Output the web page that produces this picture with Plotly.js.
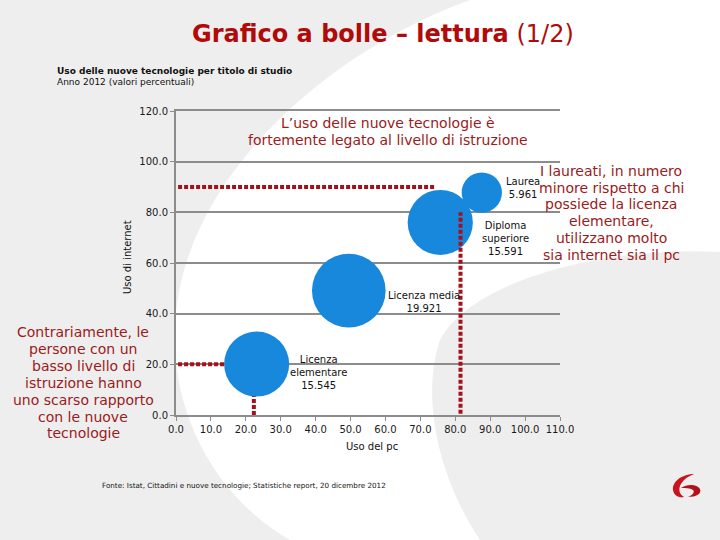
<!DOCTYPE html>
<html>
<head>
<meta charset="utf-8">
<script src="https://cdn.plot.ly/plotly-3.0.1.min.js"></script>
<style>
html,body{margin:0;padding:0;background:#eeeeee;}
#chart{width:720px;height:540px;}
</style>
</head>
<body>
<div id="chart"></div>
<script>
// ---- data ----
const categories = ['Licenza elementare', 'Licenza media', 'Diploma superiore', 'Laurea'];
const categoryLines = [['Licenza', 'elementare'], ['Licenza media'], ['Diploma', 'superiore'], ['Laurea']];
const usoPc = [23.1, 49.5, 75.7, 87.6];
const usoInternet = [20.1, 49.1, 76.0, 87.8];
const popolazione = [15.545, 19.921, 15.591, 5.961];

const titleMain = 'Grafico a bolle – lettura';
const titlePart = '(1/2)';
const subtitle1 = 'Uso delle nuove tecnologie per titolo di studio';
const subtitle2 = 'Anno 2012 (valori percentuali)';
const xTitle = 'Uso del pc';
const yTitle = 'Uso di internet';
const fonte = 'Fonte: Istat, Cittadini e nuove tecnologie; Statistiche report, 20 dicembre 2012';
const noteTop = ['L’uso delle nuove tecnologie è', 'fortemente legato al livello di istruzione'];
const noteRight = ['I laureati, in numero', 'minore rispetto a chi', 'possiede la licenza', 'elementare,', 'utilizzano molto', 'sia internet sia il pc'];
const noteLeft = ['Contrariamente, le', 'persone con un', 'basso livello di', 'istruzione hanno', 'uno scarso rapporto', 'con le nuove', 'tecnologie'];

// guide lines (data coords): [x0, y0, x1, y1, layer]
const guides = [
  [0.6, 20, 22.5, 20, 'between'],
  [22.3, 0, 22.3, 20, 'between'],
  [0.6, 90, 74.3, 90, 'above'],
  [81.5, 0.5, 81.5, 80, 'above']
];

// ---- layout helpers ----
const W = 720, H = 540;
const px = x => x / W;
const py = y => 1 - y / H;
function pathPx(cmds) {
  return cmds.map(c => {
    const l = c[0];
    const pts = [];
    for (let i = 1; i < c.length; i += 2) pts.push(px(c[i]).toFixed(5) + ',' + py(c[i + 1]).toFixed(5));
    return l + ' ' + pts.join(' ');
  }).join(' ') + ' Z';
}

const RED_TEXT = '#9c1a20';
const RED_LINE = '#a3121c';
const FONT = 'DejaVu Sans, Verdana, sans-serif';

const trace = {
  type: 'scatter',
  mode: 'markers',
  x: usoPc,
  y: usoInternet,
  text: categories,
  marker: {
    size: popolazione,
    sizemode: 'area',
    sizeref: 0.00734,
    color: '#1788dc',
    line: {width: 0},
    opacity: 1
  },
  hoverinfo: 'none',
  cliponaxis: false,
  showlegend: false
};

const shapes = [];
// background watermark (white swirl)
shapes.push({
  type: 'path', xref: 'paper', yref: 'paper', layer: 'below',
  path: pathPx([
    ['M', 470, 0], ['L', 720, 0], ['L', 720, 252],
    ['C', 600, 246, 470, 282, 440, 340],
    ['C', 420, 400, 440, 480, 480, 540],
    ['L', 290, 540],
    ['C', 220, 500, 172, 420, 175, 330],
    ['C', 178, 180, 330, 50, 470, 0]
  ]),
  fillcolor: '#ffffff', line: {width: 0}
});
// logo
shapes.push({
  type: 'path', xref: 'paper', yref: 'paper', layer: 'above',
  path: pathPx([
    ['M', 694, 474], ['C', 683, 474, 672, 481, 673, 490],
    ['C', 674, 496, 679, 498, 684, 497],
    ['C', 679, 494, 678, 489, 681, 484],
    ['C', 684, 479, 689, 476, 694, 474]
  ]),
  fillcolor: '#c8141e', line: {width: 0}
});
shapes.push({
  type: 'path', xref: 'paper', yref: 'paper', layer: 'above',
  path: pathPx([
    ['M', 681, 488], ['C', 687, 484, 697, 484, 700, 489],
    ['C', 702, 494, 696, 497, 688, 497],
    ['C', 693, 495, 695, 492, 693, 490],
    ['C', 690, 488, 685, 488, 681, 488]
  ]),
  fillcolor: '#b3101a', line: {width: 0}
});
guides.forEach(g => shapes.push({
  type: 'line', xref: 'x', yref: 'y', x0: g[0], y0: g[1], x1: g[2], y1: g[3],
  layer: g[4], line: {color: RED_LINE, width: 4, dash: '4px,2px'}
}));

const annotations = [];
function ann(text, x, y, opts) {
  annotations.push(Object.assign({
    text: text, x: px(x), y: py(y), xref: 'paper', yref: 'paper',
    showarrow: false, xanchor: 'center', yanchor: 'middle',
    font: {family: FONT, size: 14, color: RED_TEXT}
  }, opts || {}));
}
// title
ann('<b>' + titleMain + '</b> ' + titlePart, 383, 34, {font: {family: FONT, size: 24, color: '#b00a0a'}});
ann('<b>' + subtitle1 + '</b>', 55, 71, {xanchor: 'left', font: {family: FONT, size: 9, color: '#111111'}});
ann(subtitle2, 55, 82, {xanchor: 'left', font: {family: FONT, size: 9, color: '#111111'}});
// red notes, one line each
noteTop.forEach((t, i) => ann(t, 388, 122.5 + i * 17.5));
noteRight.forEach((t, i) => ann(t, 611, 171 + i * 16.7));
noteLeft.forEach((t, i) => ann(t, 83, 332 + i * 16.9));
// axis titles
ann(xTitle, 372, 446, {font: {family: FONT, size: 10, color: '#111111'}});
ann(yTitle, 128, 257, {textangle: -90, font: {family: FONT, size: 10, color: '#111111'}});
// source
ann(fonte, 100, 485, {xanchor: 'left', font: {family: FONT, size: 7.2, color: '#111111'}});
// bubble labels
const labelShift = [[62, -8], [75, -11], [65, -16], [41, 5]];
categories.forEach((c, i) => {
  annotations.push({
    text: categoryLines[i].concat([popolazione[i].toFixed(3)]).join('<br>'),
    x: usoPc[i], y: usoInternet[i], xref: 'x', yref: 'y',
    xshift: labelShift[i][0], yshift: labelShift[i][1],
    showarrow: false, xanchor: 'center', yanchor: 'middle', align: 'center',
    font: {family: FONT, size: 10, color: '#111111'}
  });
});

const layout = {
  width: W, height: H,
  margin: {l: 0, r: 0, t: 0, b: 0, pad: 0},
  paper_bgcolor: '#eeeeee',
  plot_bgcolor: 'rgba(0,0,0,0)',
  showlegend: false,
  hovermode: false,
  font: {family: FONT, size: 10, color: '#1a1a1a'},
  xaxis: {
    domain: [176 / W, 560 / W],
    range: [0, 110], dtick: 10, tick0: 0, tickformat: '.1f', tickangle: 0,
    showgrid: false, zeroline: false,
    showline: true, mirror: true, linecolor: '#8c8c8c', linewidth: 2,
    ticks: 'outside', ticklen: 4, tickwidth: 1, tickcolor: '#8c8c8c',
    tickfont: {family: FONT, size: 10, color: '#1a1a1a'},
    fixedrange: true
  },
  yaxis: {
    domain: [1 - 415 / H, 1 - 111 / H],
    range: [0, 120], dtick: 20, tick0: 0, tickformat: '.1f',
    showgrid: true, gridcolor: '#8c8c8c', gridwidth: 2, zeroline: false,
    showline: true, linecolor: '#8c8c8c', linewidth: 2,
    ticks: 'outside', ticklen: 4, tickwidth: 1, tickcolor: '#8c8c8c',
    tickfont: {family: FONT, size: 10, color: '#1a1a1a'},
    fixedrange: true
  },
  shapes: shapes,
  annotations: annotations
};

Plotly.newPlot('chart', [trace], layout, {displayModeBar: false, staticPlot: true});
</script>
</body>
</html>
